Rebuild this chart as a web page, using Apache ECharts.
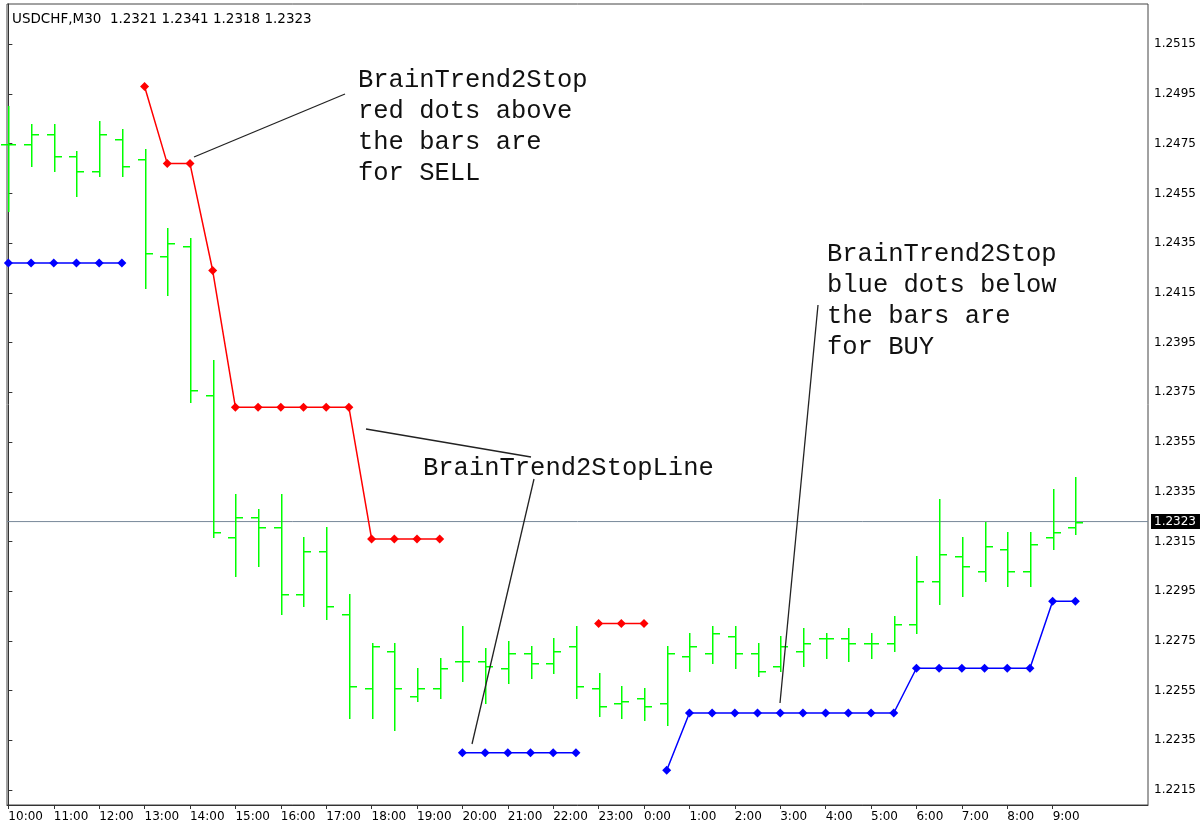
<!DOCTYPE html>
<html>
<head>
<meta charset="utf-8">
<title>USDCHF M30 BrainTrend2Stop</title>
<script src="https://cdn.jsdelivr.net/npm/echarts@6/dist/echarts.min.js"></script>
<style>
html, body { margin: 0; padding: 0; background: #fff; }
#chart { width: 1204px; height: 830px; }
</style>
</head>
<body>
<div id="chart"></div>
<script>
// bar times, M30
var barTimes = ['10:00','10:30','11:00','11:30','12:00','12:30','13:00','13:30','14:00','14:30',
  '15:00','15:30','16:00','16:30','17:00','17:30','18:00','18:30','19:00','19:30',
  '20:00','20:30','21:00','21:30','22:00','22:30','23:00','23:30','0:00','0:30',
  '1:00','1:30','2:00','2:30','3:00','3:30','4:00','4:30','5:00','5:30',
  '6:00','6:30','7:00','7:30','8:00','8:30','9:00','9:30'];

var opens = [1.2475,1.2475,1.2479,1.2470,1.2464,1.2477,1.2469,1.2430,1.2434,1.2374,
  1.2317,1.2325,1.2321,1.2294,1.2311,1.2286,1.2256,1.2271,1.2253,1.2256,
  1.2267,1.2267,1.2264,1.2270,1.2266,1.2273,1.2256,1.2250,1.2252,1.2250,
  1.2269,1.2270,1.2277,1.2270,1.2265,1.2271,1.2276,1.2276,1.2274,1.2274,
  1.2282,1.2299,1.2309,1.2303,1.2312,1.2303,1.2317,1.2321];
var highs = [1.2490,1.2483,1.2483,1.2472,1.2484,1.2481,1.2473,1.2441,1.2437,1.2388,
  1.2334,1.2328,1.2334,1.2317,1.2321,1.2294,1.2274,1.2274,1.2264,1.2268,
  1.2281,1.2272,1.2275,1.2273,1.2276,1.2281,1.2262,1.2257,1.2256,1.2273,
  1.2278,1.2281,1.2281,1.2274,1.2277,1.2280,1.2278,1.2280,1.2278,1.2285,
  1.2309,1.2332,1.2317,1.2323,1.2319,1.2319,1.2336,1.2341];
var lows = [1.2448,1.2466,1.2464,1.2454,1.2462,1.2462,1.2417,1.2414,1.2371,1.2317,
  1.2301,1.2305,1.2286,1.2289,1.2284,1.2244,1.2244,1.2239,1.2251,1.2252,
  1.2259,1.2250,1.2258,1.2260,1.2262,1.2252,1.2245,1.2244,1.2243,1.2241,
  1.2263,1.2266,1.2264,1.2261,1.2263,1.2265,1.2268,1.2267,1.2268,1.2271,
  1.2278,1.2290,1.2293,1.2299,1.2297,1.2297,1.2312,1.2318];
var closes = [1.2475,1.2479,1.2470,1.2464,1.2479,1.2466,1.2431,1.2435,1.2376,1.2319,
  1.2325,1.2321,1.2294,1.2311,1.2289,1.2257,1.2273,1.2256,1.2256,1.2264,
  1.2267,1.2265,1.2270,1.2266,1.2271,1.2257,1.2249,1.2251,1.2249,1.2270,
  1.2273,1.2278,1.2270,1.2263,1.2273,1.2274,1.2276,1.2274,1.2274,1.2282,
  1.2299,1.2310,1.2305,1.2313,1.2303,1.2314,1.2319,1.2323];

// BrainTrend2Stop: red = sell stop (above bars), blue = buy stop (below bars)
var sellStop = [null,null,null,null,null,null,1.2498,1.2467,1.2467,1.2424,
  1.2369,1.2369,1.2369,1.2369,1.2369,1.2369,1.2316,1.2316,1.2316,1.2316,
  null,null,null,null,null,null,1.2282,1.2282,1.2282,null,
  null,null,null,null,null,null,null,null,null,null,
  null,null,null,null,null,null,null,null];
var buyStop = [1.2427,1.2427,1.2427,1.2427,1.2427,1.2427,null,null,null,null,
  null,null,null,null,null,null,null,null,null,null,
  1.2230,1.2230,1.2230,1.2230,1.2230,1.2230,null,null,null,1.2223,
  1.2246,1.2246,1.2246,1.2246,1.2246,1.2246,1.2246,1.2246,1.2246,1.2246,
  1.2264,1.2264,1.2264,1.2264,1.2264,1.2264,1.2291,1.2291];

var yTicks = [1.2215,1.2235,1.2255,1.2275,1.2295,1.2315,1.2335,1.2355,
  1.2375,1.2395,1.2415,1.2435,1.2455,1.2475,1.2495,1.2515];
var xTicks = [0,2,4,6,8,10,12,14,16,18,20,22,24,26,28,30,32,34,36,38,40,42,44,46];

var symbolName = 'USDCHF,M30';
var lastPrice = 1.2323;

var xMin = -0.06, xMax = 50.2;

var ohlc = [];
for (var i = 0; i < barTimes.length; i++) {
  ohlc.push([i, opens[i], highs[i], lows[i], closes[i]]);
}
function toLine(arr) {
  return arr.map(function (v, i) { return [i, v == null ? '-' : v]; });
}

var chart = echarts.init(document.getElementById('chart'));
var font = 'DejaVu Sans';
var annoFont = '25.5px "Liberation Mono", "Courier New", monospace';
var lineStyleAnno = { stroke: '#222', lineWidth: 1.3 };

var option = {
  animation: false,
  backgroundColor: '#ffffff',
  title: {
    text: symbolName + '  ' + opens[47].toFixed(4) + ' ' + highs[47].toFixed(4) + ' ' +
      lows[47].toFixed(4) + ' ' + closes[47].toFixed(4),
    left: 12, top: 12, padding: 0,
    textStyle: { fontSize: 13.5, fontWeight: 'normal', color: '#000', fontFamily: font }
  },
  grid: {
    left: 7, right: 56, top: 4, bottom: 25,
    show: true, borderColor: '#444', borderWidth: 1
  },
  xAxis: {
    type: 'value', min: xMin, max: xMax,
    splitLine: { show: false },
    axisLine: { lineStyle: { color: '#333' } },
    axisTick: { show: true, length: 4, customValues: xTicks, lineStyle: { color: '#333' } },
    axisLabel: {
      customValues: xTicks,
      formatter: function (v) { return barTimes[v]; },
      align: 'left', margin: 6, color: '#000', fontSize: 12, fontFamily: font
    }
  },
  yAxis: {
    type: 'value', position: 'right', min: 1.2209, max: 1.25312,
    splitLine: { show: false },
    axisLine: { show: true, lineStyle: { color: '#333' } },
    axisTick: { show: true, length: 4, customValues: yTicks, lineStyle: { color: '#333' } },
    axisLabel: {
      customValues: yTicks,
      formatter: function (v) { return v.toFixed(4); },
      margin: 6, color: '#000', fontSize: 12, fontFamily: font
    }
  },
  series: [
    {
      // bid line + price box on the right
      name: 'bid',
      type: 'line',
      data: [[xMin, lastPrice], [xMax, lastPrice]],
      symbol: 'none',
      silent: true,
      lineStyle: { color: '#778899', width: 1 },
      endLabel: {
        show: true, distance: 3,
        formatter: function () { return lastPrice.toFixed(4); },
        color: '#fff', backgroundColor: '#000', padding: [2, 4, 1, 3],
        fontSize: 12, fontFamily: font
      },
      z: 1
    },
    {
      // OHLC bars, MT4 style: open tick left, close tick right
      type: 'custom',
      data: ohlc,
      encode: { x: 0, y: [1, 2, 3, 4] },
      renderItem: function (params, api) {
        var x = api.value(0);
        var o = api.coord([x, api.value(1)]);
        var h = api.coord([x, api.value(2)]);
        var l = api.coord([x, api.value(3)]);
        var c = api.coord([x, api.value(4)]);
        var px = Math.round(h[0]);
        var top = Math.round(h[1]), bot = Math.round(l[1]);
        var st = { fill: '#00ff00' };
        var w = 1.5;
        return {
          type: 'group',
          children: [
            { type: 'rect', shape: { x: px, y: top, width: w, height: Math.max(1, bot - top + 1) }, style: st },
            { type: 'rect', shape: { x: px - 7, y: Math.round(o[1]), width: 7, height: w }, style: st },
            { type: 'rect', shape: { x: px + 1, y: Math.round(c[1]), width: 7, height: w }, style: st }
          ]
        };
      },
      z: 3
    },
    {
      name: 'BrainTrend2Stop sell',
      type: 'line',
      data: toLine(sellStop),
      connectNulls: false,
      symbol: 'diamond', symbolSize: 9, showSymbol: true,
      itemStyle: { color: '#ff0000' },
      lineStyle: { color: '#ff0000', width: 1.5 },
      z: 4
    },
    {
      name: 'BrainTrend2Stop buy',
      type: 'line',
      data: toLine(buyStop),
      connectNulls: false,
      symbol: 'diamond', symbolSize: 9, showSymbol: true,
      itemStyle: { color: '#0000ff' },
      lineStyle: { color: '#0000ff', width: 1.5 },
      z: 4
    }
  ],
  graphic: [
    { type: 'text', x: 358, y: 65, z: 10,
      style: { text: 'BrainTrend2Stop\nred dots above\nthe bars are\nfor SELL', font: annoFont, fill: '#111', lineHeight: 31, verticalAlign: 'top' } },
    { type: 'text', x: 423, y: 453, z: 10,
      style: { text: 'BrainTrend2StopLine', font: annoFont, fill: '#111', lineHeight: 31, verticalAlign: 'top' } },
    { type: 'text', x: 827, y: 239, z: 10,
      style: { text: 'BrainTrend2Stop\nblue dots below\nthe bars are\nfor BUY', font: annoFont, fill: '#111', lineHeight: 31, verticalAlign: 'top' } },
    // leader lines
    { type: 'line', z: 10, shape: { x1: 194, y1: 157, x2: 345, y2: 94 }, style: lineStyleAnno },
    { type: 'line', z: 10, shape: { x1: 366, y1: 429, x2: 531, y2: 457 }, style: lineStyleAnno },
    { type: 'line', z: 10, shape: { x1: 534, y1: 479, x2: 472, y2: 744 }, style: lineStyleAnno },
    { type: 'line', z: 10, shape: { x1: 818, y1: 305, x2: 780, y2: 703 }, style: lineStyleAnno }
  ]
};
chart.setOption(option);
</script>
</body>
</html>
